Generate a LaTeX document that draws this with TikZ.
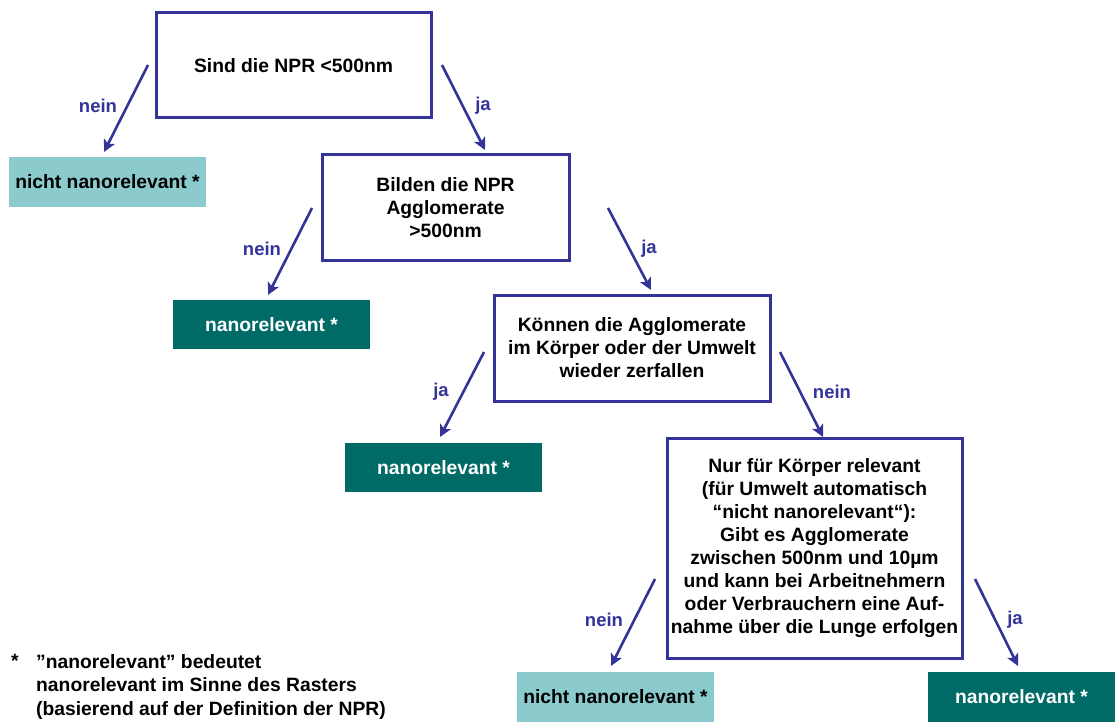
\documentclass[tikz,border=0pt]{standalone}
\usepackage{fontspec}
\setmainfont{Liberation Sans}
\usetikzlibrary{arrows.meta}
\definecolor{nblue}{HTML}{333399}
\definecolor{lteal}{HTML}{8BCBCD}
\definecolor{dteal}{HTML}{006B66}
\tikzset{
  qbox/.style={draw=nblue, line width=3pt, fill=white, align=center, inner sep=0pt, font=\bfseries\fontsize{19.3}{23}\selectfont},
  nnbox/.style={fill=lteal, inner sep=0pt, minimum width=197pt, minimum height=49pt, font=\bfseries\fontsize{19.3}{23}\selectfont, text=black},
  nrbox/.style={fill=dteal, inner sep=0pt, minimum width=197pt, minimum height=49pt, font=\bfseries\fontsize{19.3}{23}\selectfont, text=white},
  flow/.style={draw=nblue, line width=2.6pt, -{Stealth[length=12pt,width=12pt,inset=3pt]}},
  lbl/.style={text=nblue, font=\bfseries\fontsize{18.5}{22}\selectfont, inner sep=0pt},
  foot/.style={font=\bfseries\fontsize{19.3}{23.5}\selectfont, inner sep=0pt, align=left}
}
\begin{document}
\begin{tikzpicture}[x=1pt,y=-1pt]
\useasboundingbox (0,0) rectangle (1115,722);

% question boxes
\node[qbox, minimum width=275pt, minimum height=105pt] (q1) at (293.5,65.5) {Sind die NPR <500nm};
\node[qbox, minimum width=247pt, minimum height=105pt] (q2) at (445.5,207.5) {Bilden die NPR\\Agglomerate\\>500nm};
\node[qbox, minimum width=276pt, minimum height=106pt] (q3) at (632,348) {Können die Agglomerate\\im Körper oder der Umwelt\\wieder zerfallen};
\node[qbox, minimum width=295pt, minimum height=220pt] (q4) at (814.5,548) {Nur für Körper relevant\\(für Umwelt automatisch\\“nicht nanorelevant“):\\Gibt es Agglomerate\\zwischen 500nm und 10µm\\und kann bei Arbeitnehmern\\oder Verbrauchern eine Auf-\\nahme über die Lunge erfolgen};

% result boxes
\node[nnbox] (r1) at (107.5,182) {nicht nanorelevant *};
\node[nrbox] (r2) at (271.5,324.5) {nanorelevant *};
\node[nrbox] (r3) at (443.5,467.5) {nanorelevant *};
\node[nnbox, minimum height=50pt] (r4) at (615.5,697) {nicht nanorelevant *};
\node[nrbox, minimum width=187pt, minimum height=50pt] (r5) at (1021.5,697) {nanorelevant *};

% arrow end points
\coordinate (a1s) at (148,65);  \coordinate (a1e) at (104,152);
\coordinate (a2s) at (442,65);  \coordinate (a2e) at (485,150);
\coordinate (a3s) at (312,208); \coordinate (a3e) at (268,295);
\coordinate (a4s) at (608,208); \coordinate (a4e) at (651,290);
\coordinate (a5s) at (484,352); \coordinate (a5e) at (440,437);
\coordinate (a6s) at (780,352); \coordinate (a6e) at (823,437);
\coordinate (a7s) at (655,579); \coordinate (a7e) at (611,666);
\coordinate (a8s) at (975,579); \coordinate (a8e) at (1018,666);

\draw[flow] (a1s) -- (a1e);
\draw[flow] (a2s) -- (a2e);
\draw[flow] (a3s) -- (a3e);
\draw[flow] (a4s) -- (a4e);
\draw[flow] (a5s) -- (a5e);
\draw[flow] (a6s) -- (a6e);
\draw[flow] (a7s) -- (a7e);
\draw[flow] (a8s) -- (a8e);

% labels
\node[lbl] (l1) at (98,106) {nein};
\node[lbl] (l2) at (483,106) {ja};
\node[lbl] (l3) at (262,249) {nein};
\node[lbl] (l4) at (649,249) {ja};
\node[lbl] (l5) at (441,392) {ja};
\node[lbl] (l6) at (832,392) {nein};
\node[lbl] (l7) at (604,620) {nein};
\node[lbl] (l8) at (1015,620) {ja};

% footnote
\node[foot, anchor=north west] (fs) at (11,654) {*};
\node[foot, anchor=north west] (ft) at (36,654) {”nanorelevant” bedeutet\\nanorelevant im Sinne des Rasters\\(basierend auf der Definition der NPR)};
\end{tikzpicture}
\end{document}
